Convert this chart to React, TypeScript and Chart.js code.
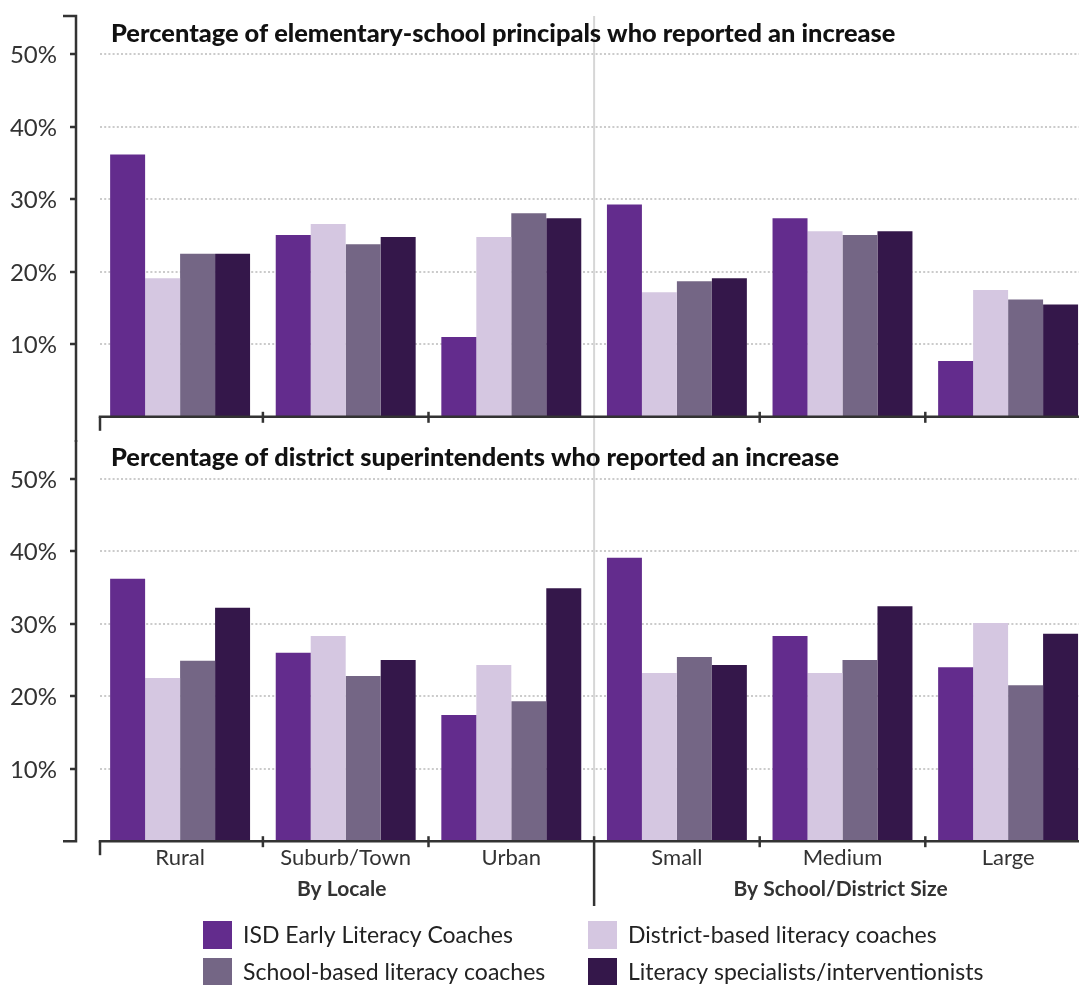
import { useEffect, useRef } from "react";
import { Chart, registerables } from "chart.js";

Chart.register(...registerables);

// Categories and series
const categories = ["Rural", "Suburb/Town", "Urban", "Small", "Medium", "Large"];
const groupLabels = ["By Locale", "By School/District Size"];
const seriesNames = [
  "ISD Early Literacy Coaches",
  "District-based literacy coaches",
  "School-based literacy coaches",
  "Literacy specialists/interventionists",
];
const seriesColors = ["#632c8d", "#d5c7e1", "#746685", "#34174a"];

// Elementary-school principals (%)
const principalsIsd = [36.2, 25.1, 11.0, 29.3, 27.4, 7.7];
const principalsDistrict = [19.1, 26.6, 24.8, 17.2, 25.6, 17.5];
const principalsSchool = [22.5, 23.8, 28.1, 18.7, 25.1, 16.2];
const principalsSpecialists = [22.5, 24.8, 27.4, 19.1, 25.6, 15.5];

// District superintendents (%)
const superIsd = [36.2, 26.0, 17.4, 39.1, 28.3, 24.0];
const superDistrict = [22.5, 28.3, 24.3, 23.2, 23.2, 30.1];
const superSchool = [24.9, 22.8, 19.3, 25.4, 25.0, 21.5];
const superSpecialists = [32.2, 25.0, 34.9, 24.3, 32.4, 28.6];

const yTicks = [10, 20, 30, 40, 50];
const yTickLabels = ["10%", "20%", "30%", "40%", "50%"];
const panelTitles = [
  "Percentage of elementary-school principals who reported an increase",
  "Percentage of district superintendents who reported an increase",
];

const Y_MAX = 55.3;
const CANVAS_W = 1095;
const CANVAS_H = 985;
const AXIS_X = 76;
const PLOT_X0 = 100;
const INK = "#333333";
const FONT = "Lato, 'Open Sans', sans-serif";

function line(ctx: CanvasRenderingContext2D, x1: number, y1: number, x2: number, y2: number) {
  ctx.beginPath();
  ctx.moveTo(x1, y1);
  ctx.lineTo(x2, y2);
  ctx.stroke();
}

function makeDecor(panel: number) {
  return {
    id: "decor" + panel,
    beforeDatasetsDraw(chart: any) {
      const { ctx, chartArea } = chart;
      const x = chart.scales.x;
      const y = chart.scales.y;
      ctx.save();
      // dotted gridlines
      ctx.strokeStyle = "#cbcbcb";
      ctx.lineWidth = 2;
      ctx.setLineDash([2, 2.2]);
      yTicks.forEach((t) => {
        const py = Math.round(y.getPixelForValue(t));
        line(ctx, PLOT_X0, py, CANVAS_W, py);
      });
      ctx.setLineDash([]);
      // light separator between the two groupings
      const sepX = (x.getPixelForValue(2) + x.getPixelForValue(3)) / 2;
      ctx.strokeStyle = "#d6d6d6";
      ctx.lineWidth = 2;
      if (panel === 0) line(ctx, sepX, chartArea.top, sepX, 441);
      else line(ctx, sepX, 441, sepX, chartArea.bottom);
      ctx.restore();
    },
    afterDatasetsDraw(chart: any) {
      const { ctx, chartArea } = chart;
      const x = chart.scales.x;
      const y = chart.scales.y;
      const bottom = chartArea.bottom;
      ctx.save();
      ctx.strokeStyle = INK;
      ctx.lineWidth = 2.5;
      ctx.lineCap = "butt";

      // category axis
      line(ctx, PLOT_X0 - 1.25, bottom, CANVAS_W, bottom);
      line(ctx, PLOT_X0, bottom, PLOT_X0, bottom + 14);
      [0, 1, 3, 4].forEach((i) => {
        const bx = (x.getPixelForValue(i) + x.getPixelForValue(i + 1)) / 2;
        line(ctx, bx, bottom - 5, bx, bottom + 6);
      });

      // value axis ticks and labels
      ctx.font = `24px ${FONT}`;
      ctx.fillStyle = INK;
      ctx.textAlign = "right";
      ctx.textBaseline = "middle";
      yTicks.forEach((t, i) => {
        const py = Math.round(y.getPixelForValue(t));
        line(ctx, AXIS_X - 6, py, AXIS_X, py);
        ctx.fillText(yTickLabels[i], 57, py + 1);
      });

      // value axis bracket
      ctx.lineJoin = "miter";
      ctx.beginPath();
      if (panel === 0) {
        ctx.moveTo(63, chartArea.top);
        ctx.lineTo(AXIS_X, chartArea.top);
        ctx.lineTo(AXIS_X, 442);
      } else {
        ctx.moveTo(AXIS_X, 440);
        ctx.lineTo(AXIS_X, bottom);
        ctx.lineTo(63, bottom);
      }
      ctx.stroke();

      // panel title
      ctx.font = `900 25.4px ${FONT}`;
      ctx.fillStyle = "#111111";
      ctx.textAlign = "left";
      ctx.textBaseline = "alphabetic";
      ctx.fillText(panelTitles[panel], 111, chartArea.top + 26);

      if (panel === 1) {
        const sepX = (x.getPixelForValue(2) + x.getPixelForValue(3)) / 2;
        line(ctx, sepX, bottom - 5, sepX, 906);

        // category labels
        ctx.font = `22px ${FONT}`;
        ctx.fillStyle = INK;
        ctx.textAlign = "center";
        ctx.textBaseline = "middle";
        chart.data.labels.forEach((lab: string, i: number) => {
          ctx.fillText(lab, x.getPixelForValue(i), bottom + 17);
        });

        // grouping labels
        ctx.font = `bold 21px ${FONT}`;
        ctx.fillText(groupLabels[0], x.getPixelForValue(1) - 4, bottom + 48);
        ctx.fillText(groupLabels[1], x.getPixelForValue(4) - 2, bottom + 48);

        // legend
        ctx.font = `23px ${FONT}`;
        ctx.textAlign = "left";
        const cols = [203, 588];
        const rows = [935, 972];
        chart.data.datasets.forEach((ds: any, i: number) => {
          const cx = cols[i % 2];
          const cy = rows[Math.floor(i / 2)];
          ctx.fillStyle = ds.backgroundColor;
          ctx.fillRect(cx, cy - 14, 29, 28);
          ctx.fillStyle = "#222222";
          ctx.fillText(ds.label, cx + 40, cy + 1);
        });
      }
      ctx.restore();
    },
  };
}

function buildChart(canvas: HTMLCanvasElement, panel: number, series: number[][], top: number, zero: number) {
  return new Chart(canvas, {
    type: "bar",
    data: {
      labels: categories,
      datasets: series.map((data, i) => ({
        label: seriesNames[i],
        data,
        backgroundColor: seriesColors[i],
        borderWidth: 0,
        barPercentage: 1,
        categoryPercentage: 0.845,
      })),
    },
    options: {
      responsive: false,
      animation: false,
      events: [],
      layout: {
        padding: { left: 97.3, right: CANVAS_W - 1090.9, top, bottom: CANVAS_H - zero },
      },
      plugins: { legend: { display: false }, tooltip: { enabled: false } },
      scales: {
        x: { display: false, offset: true },
        y: { display: false, min: 0, max: Y_MAX },
      },
    },
    plugins: [makeDecor(panel)],
  });
}

export default function App() {
  const topRef = useRef<HTMLCanvasElement>(null);
  const bottomRef = useRef<HTMLCanvasElement>(null);

  useEffect(() => {
    const a = buildChart(
      topRef.current!,
      0,
      [principalsIsd, principalsDistrict, principalsSchool, principalsSpecialists],
      16,
      416.8
    );
    const b = buildChart(
      bottomRef.current!,
      1,
      [superIsd, superDistrict, superSchool, superSpecialists],
      440.3,
      841.2
    );
    return () => {
      a.destroy();
      b.destroy();
    };
  }, []);

  const canvasStyle: React.CSSProperties = { position: "absolute", left: 0, top: 0 };
  return (
    <div
      style={{
        position: "absolute",
        left: 0,
        top: 0,
        width: 1079,
        height: 985,
        overflow: "hidden",
        background: "#ffffff",
      }}
    >
      <canvas ref={topRef} width={CANVAS_W} height={CANVAS_H} style={canvasStyle} />
      <canvas ref={bottomRef} width={CANVAS_W} height={CANVAS_H} style={canvasStyle} />
    </div>
  );
}
